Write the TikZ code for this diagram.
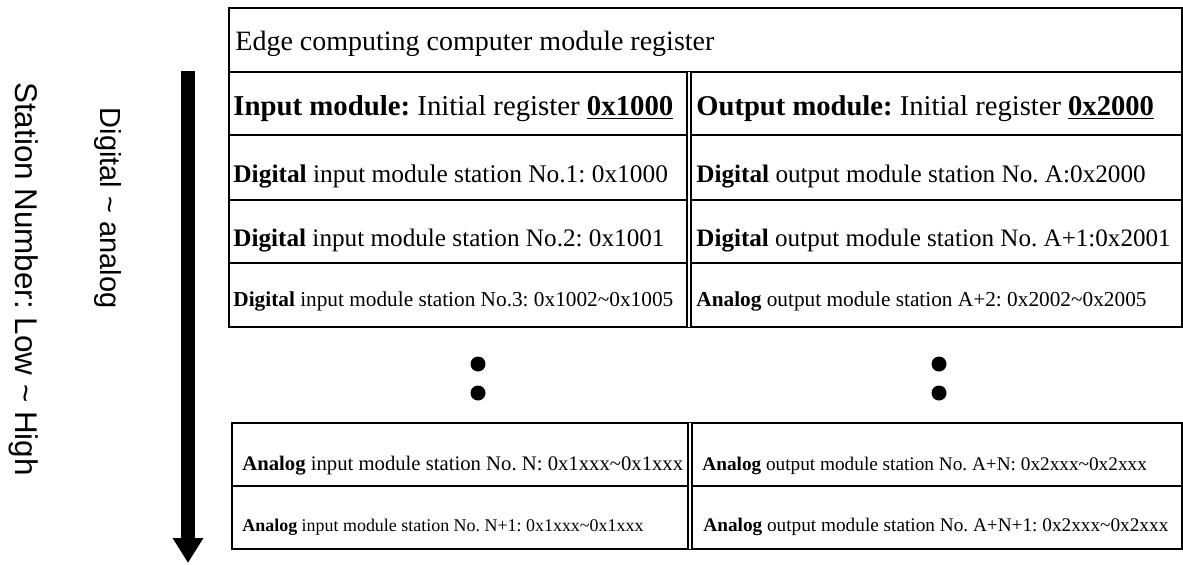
\documentclass[tikz,border=0pt]{standalone}
\usepackage{fontspec}
\setmainfont{Liberation Serif}
\newfontfamily\labelfont{Liberation Sans}
\usetikzlibrary{arrows.meta}
\frenchspacing

\tikzset{
  cell/.style={anchor=base west, inner sep=0pt, font=\fontsize{#1}{#1}\selectfont},
  sidetext/.style={rotate=-90, anchor=base, inner sep=0pt},
  border/.style={line width=1pt},
  divider/.style={double, line width=0.7pt, double distance=1.2pt},
  dot/.style={circle, fill=black, inner sep=0pt, minimum size=7.5pt},
}

\begin{document}
\begin{tikzpicture}[x=0.5pt, y=-0.5pt]
    \useasboundingbox (0,0) rectangle (1183,564);
    % side labels and arrow
    \node [sidetext, font=\labelfont\fontsize{15.7}{18}\selectfont] (station) at (15.5,279) {Station Number: Low \textasciitilde{} High};
    \node [sidetext, font=\labelfont\fontsize{14.5}{17}\selectfont] (digana) at (100,208) {Digital \textasciitilde{} analog};
    \coordinate (arrtop) at (188,71);
    \coordinate (arrend) at (188,563);
    \draw [line width=7pt, -{Triangle[width=14.5pt,length=12.5pt]}] (arrtop) -- (arrend);
    % upper table
    \draw [border] (229,8) rectangle (1182,327);
    \foreach \y in {72,135,200,263}
        \draw [border] (229,\y) -- (1182,\y);
    \draw [divider] (689,72) -- (689,327);
    \node [cell=14] (title) at (235,50) {Edge computing computer module register};
    \node [cell=14.4] (inhead) at (233,115) {\textbf{Input module:} Initial register \textbf{\underline{0x1000}}};
    \node [cell=14.3] (outhead) at (696,115) {\textbf{Output module:} Initial register \textbf{\underline{0x2000}}};
    \node [cell=12.7] (inA) at (233,182) {\textbf{Digital} input module station No.1: 0x1000};
    \node [cell=12.6] (outA) at (696,182) {\textbf{Digital} output module station No. A:0x2000};
    \node [cell=12.6] (inB) at (233,246) {\textbf{Digital} input module station No.2: 0x1001};
    \node [cell=12.55] (outB) at (696,246) {\textbf{Digital} output module station No. A+1:0x2001};
    \node [cell=10.65] (inC) at (233,306) {\textbf{Digital} input module station No.3: 0x1002\textasciitilde 0x1005};
    \node [cell=10.65] (outC) at (696,306) {\textbf{Analog} output module station A+2: 0x2002\textasciitilde 0x2005};
    % continuation dots
    \foreach \x/\n in {478/l,939/r} {
        \node [dot] (\n dotA) at (\x,364) {};
        \node [dot] (\n dotB) at (\x,393) {};
    }
    % lower table
    \draw [border] (232,423) rectangle (1182,549);
    \draw [border] (232,486) -- (1182,486);
    \draw [divider] (690,423) -- (690,549);
    \node [cell=10.35] (inN) at (242,470) {\textbf{Analog} input module station No. N: 0x1xxx\textasciitilde 0x1xxx};
    \node [cell=9.63] (outN) at (702,470) {\textbf{Analog} output module station No. A+N: 0x2xxx\textasciitilde 0x2xxx};
    \node [cell=8.97] (inM) at (242,531) {\textbf{Analog} input module station No. N+1: 0x1xxx\textasciitilde 0x1xxx};
    \node [cell=9.63] (outM) at (703,531) {\textbf{Analog} output module station No. A+N+1: 0x2xxx\textasciitilde 0x2xxx};
\end{tikzpicture}
\end{document}
